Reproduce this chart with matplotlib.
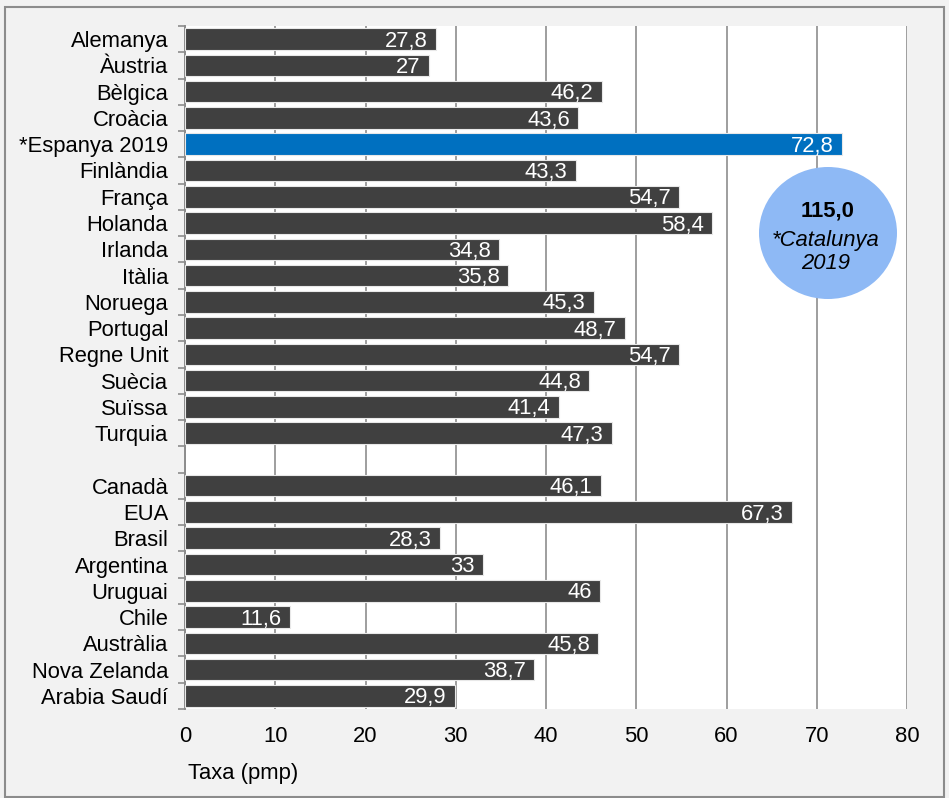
import numpy as np
import matplotlib
matplotlib.use("Agg")
import matplotlib.pyplot as plt
from matplotlib.patches import Ellipse, Rectangle

plt.rcParams["font.family"] = ["Liberation Sans", "DejaVu Sans"]

countries = [
    "Alemanya", "Àustria", "Bèlgica", "Croàcia", "*Espanya 2019", "Finlàndia",
    "França", "Holanda", "Irlanda", "Itàlia", "Noruega", "Portugal",
    "Regne Unit", "Suècia", "Suïssa", "Turquia", "",
    "Canadà", "EUA", "Brasil", "Argentina", "Uruguai", "Chile",
    "Austràlia", "Nova Zelanda", "Arabia Saudí",
]
values = [
    27.8, 27, 46.2, 43.6, 72.8, 43.3,
    54.7, 58.4, 34.8, 35.8, 45.3, 48.7,
    54.7, 44.8, 41.4, 47.3, None,
    46.1, 67.3, 28.3, 33, 46, 11.6,
    45.8, 38.7, 29.9,
]
highlight = "*Espanya 2019"
catalunya_value = "115,0"
catalunya_label = "*Catalunya\n2019"

FS = 15.8
W, H = 949, 798
fig = plt.figure(figsize=(W / 100, H / 100), dpi=100)
fig.patch.set_facecolor("#F2F2F2")
fig.patches.append(Rectangle((5 / W, 1 / H), 939 / W, 790 / H, transform=fig.transFigure,
                             fill=False, edgecolor="#8C8C8C", linewidth=1.5))

ax = fig.add_axes([185 / W, 1 - 709 / H, (907 - 185) / W, (709 - 26) / H])
ax.set_facecolor("white")

y = np.arange(len(countries))
for i, (name, v) in enumerate(zip(countries, values)):
    if v is None:
        continue
    color = "#0070C0" if name == highlight else "#404040"
    ax.barh(i, v, height=0.82, color=color, edgecolor="#E8E8E8", linewidth=0.8, zorder=3)
    label = f"{v:g}".replace(".", ",")
    ax.annotate(label, (v, i), xytext=(-6, -1.5), textcoords="offset points",
                ha="right", va="center", color="white", fontsize=FS, zorder=4)

ax.set_xlim(0, 80)
ax.set_ylim(len(countries) - 0.5, -0.5)
ax.set_xticks(range(0, 81, 10))
ax.set_yticks(y)
ax.set_yticklabels(countries, fontsize=FS)
ax.set_yticks(np.arange(-0.5, len(countries), 1), minor=True)
ax.tick_params(axis="y", which="major", length=0, pad=12)
ax.tick_params(axis="y", which="minor", length=5, color="#8C8C8C", width=1.2)
ax.tick_params(axis="x", length=0, labelsize=FS, pad=12)
ax.grid(axis="x", color="#9E9E9E", linewidth=1.4, zorder=0)
for s in ["top", "right", "bottom"]:
    ax.spines[s].set_visible(False)
ax.spines["left"].set_color("#8C8C8C")
ax.spines["left"].set_linewidth(1.4)

fig.text(188 / W, 1 - 774 / H, "Taxa (pmp)", fontsize=FS, ha="left", va="center")

fig.patches.append(Ellipse((828 / W, 1 - 233 / H), 138 / W, 132 / H, transform=fig.transFigure,
                           facecolor="#8EB9F5", edgecolor="none", zorder=5))
fig.text(828 / W, 1 - 211 / H, catalunya_value, fontsize=FS, fontweight="bold",
         ha="center", va="center", zorder=6)
fig.text(826 / W, 1 - 252 / H, catalunya_label, fontsize=FS, style="italic",
         ha="center", va="center", linespacing=1.1, zorder=6)

fig.savefig("out.png", dpi=100, facecolor=fig.get_facecolor())
